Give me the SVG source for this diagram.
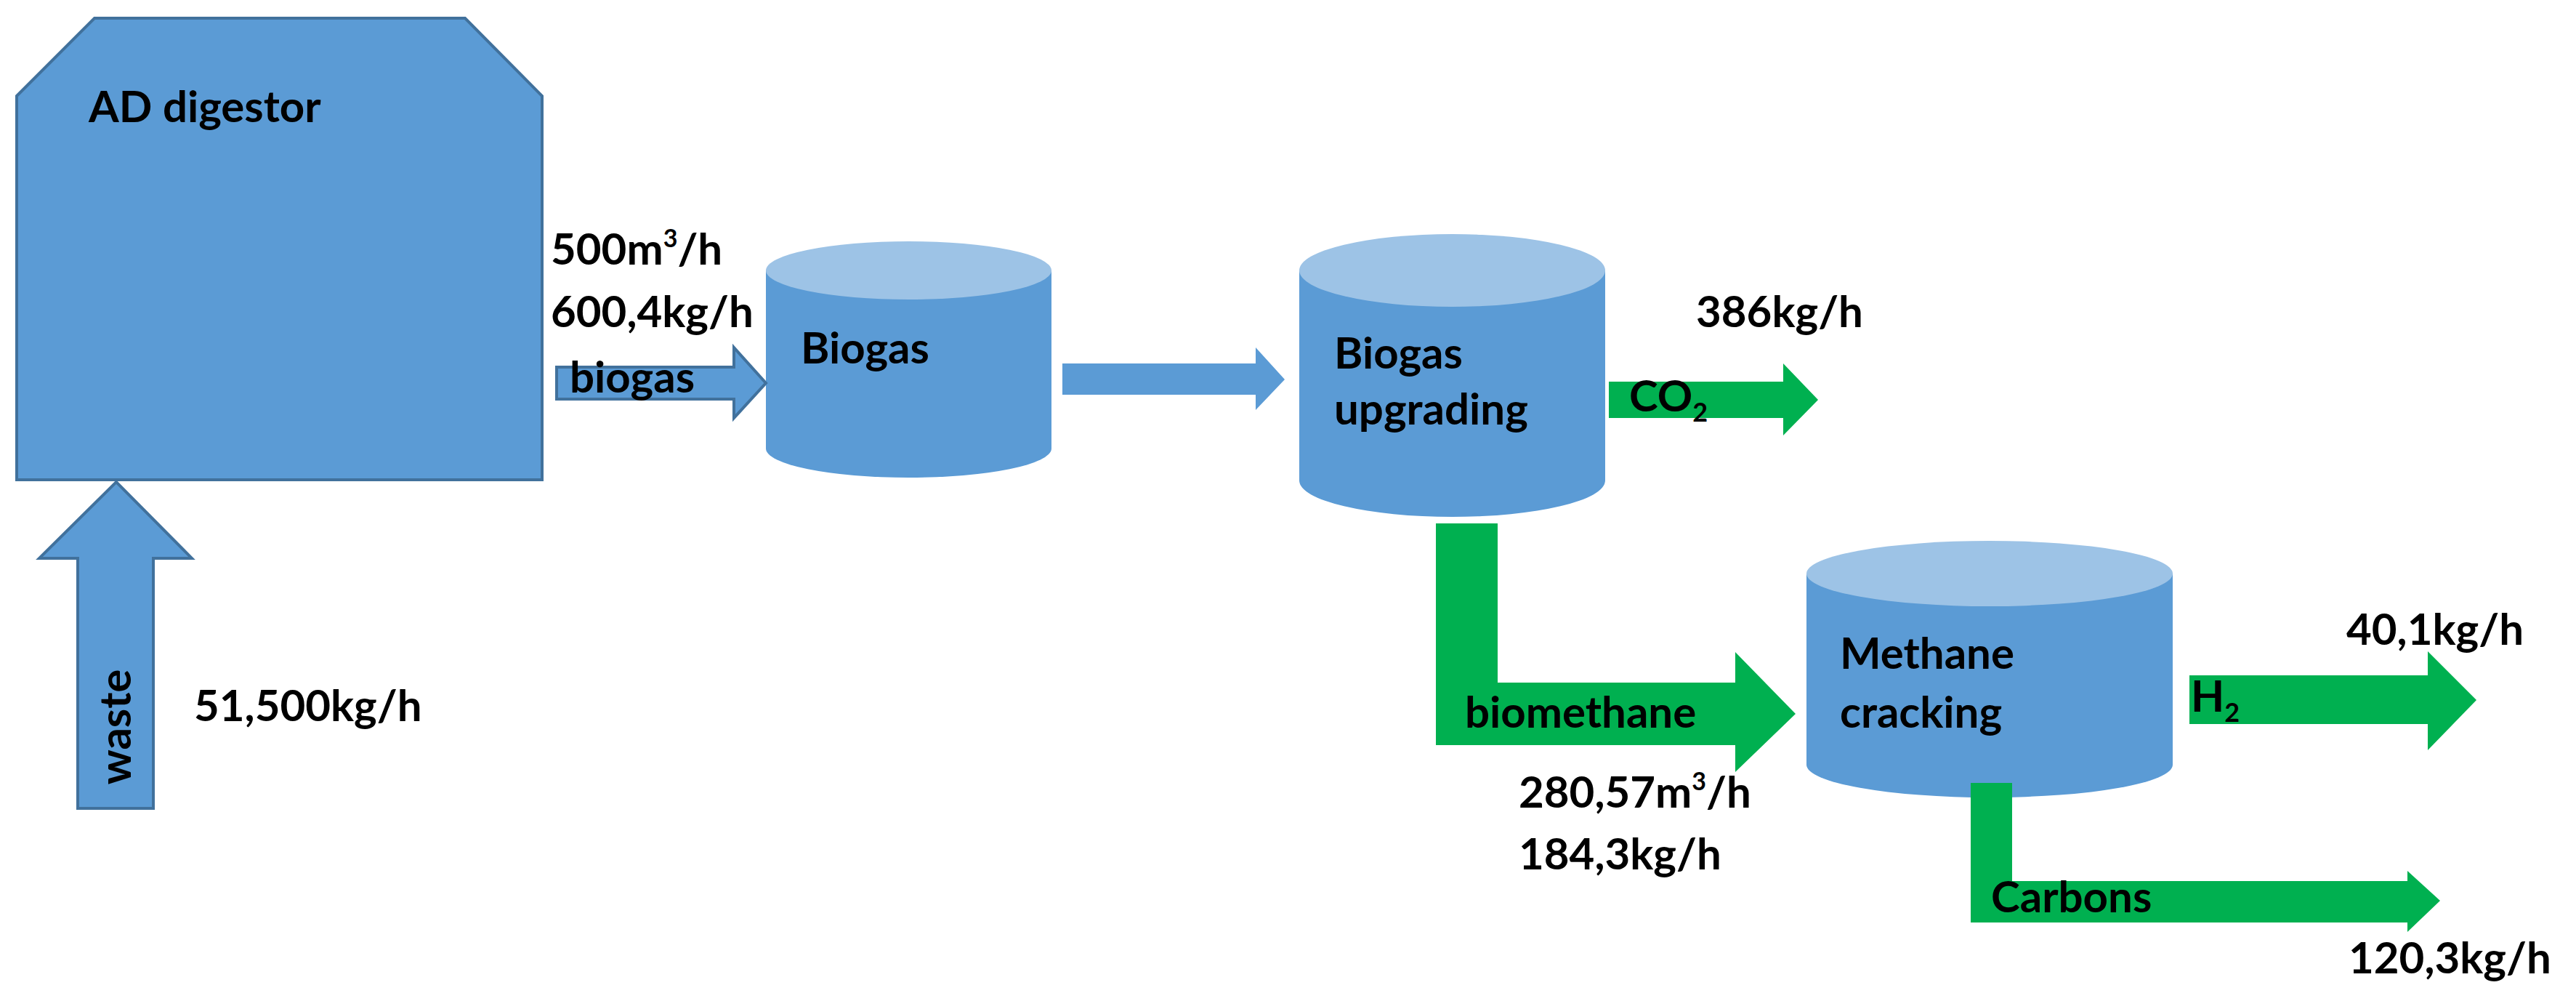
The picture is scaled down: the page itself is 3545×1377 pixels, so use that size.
<svg xmlns="http://www.w3.org/2000/svg" width="3545" height="1377" viewBox="0 0 3545 1377">
<style>
.b{fill:#5B9BD5;stroke:#41719C;stroke-width:4}
.top{fill:#9DC3E6}
.body{fill:#5B9BD5}
.g{fill:#00B050}
text{font-family:Lato,"Liberation Sans",sans-serif;font-weight:bold;font-size:60px;fill:#000}
</style>
<rect width="3545" height="1377" fill="#fff"/>
<g id="ad-digestor">
<polygon class="b" points="23,132 130,25 640,25 746,132 746,660 23,660"/>
<text x="122" y="168">AD digestor</text>
</g>
<g id="biogas">
<path class="body" d="M1054,372 V617 A196.5,40 0 0 0 1447,617 V372 Z"/>
<ellipse class="top" cx="1250.5" cy="372" rx="196.5" ry="40"/>
<text x="1102" y="500">Biogas</text>
</g>
<g id="biogas-upgrading">
<path class="body" d="M1788,372 V661 A210.5,50 0 0 0 2209,661 V372 Z"/>
<ellipse class="top" cx="1998.5" cy="372" rx="210.5" ry="50"/>
<text x="1836" y="507">Biogas</text>
<text x="1836" y="584">upgrading</text>
</g>
<g id="methane-cracking">
<path class="body" d="M2486,789 V1052 A252,45 0 0 0 2990,1052 V789 Z"/>
<ellipse class="top" cx="2738" cy="789" rx="252" ry="45"/>
<text x="2532" y="920">Methane</text>
<text x="2532" y="1001">cracking</text>
</g>
<g id="connectors">
<polygon class="b" points="107,1112 107,768 54,768 160,663 264,768 211,768 211,1112"/>
<text transform="translate(180,1000) rotate(-90)" text-anchor="middle">waste</text>
<text x="267" y="992">51,500kg/h</text>
<polygon class="b" points="766,505 1010,505 1010,478 1054,527 1010,575 1010,549 766,549"/>
<text x="758" y="364">500m<tspan font-size="34" dy="-24">3</tspan><tspan dy="24">/h</tspan></text>
<text x="758" y="450">600,4kg/h</text>
<text x="784" y="540">biogas</text>
<polygon class="body" points="1462,500 1728,500 1728,478 1768,522 1728,564 1728,543 1462,543"/>
<polygon class="g" points="2214,525 2454,525 2454,500 2502,550 2454,599 2454,575 2214,575"/>
<text x="2242" y="566">CO<tspan font-size="36" dy="14">2</tspan></text>
<text x="2334" y="450">386kg/h</text>
<polygon class="g" points="1976,720 2061,720 2061,939 2388,939 2388,897 2471,982 2388,1062 2388,1025 1976,1025"/>
<text x="2016" y="1001">biomethane</text>
<text x="2090" y="1111">280,57m<tspan font-size="34" dy="-24">3</tspan><tspan dy="24">/h</tspan></text>
<text x="2090" y="1196">184,3kg/h</text>
<polygon class="g" points="3013,929 3341,929 3341,896 3408,963 3341,1032 3341,996 3013,996"/>
<text x="3015" y="979">H<tspan font-size="36" dy="14">2</tspan></text>
<text x="3229" y="887">40,1kg/h</text>
<polygon class="g" points="2712,1077 2769,1077 2769,1212 3313,1212 3313,1198 3358,1239 3313,1282 3313,1269 2712,1269"/>
<text x="2740" y="1255">Carbons</text>
<text x="3232" y="1339">120,3kg/h</text>
</g>
</svg>
